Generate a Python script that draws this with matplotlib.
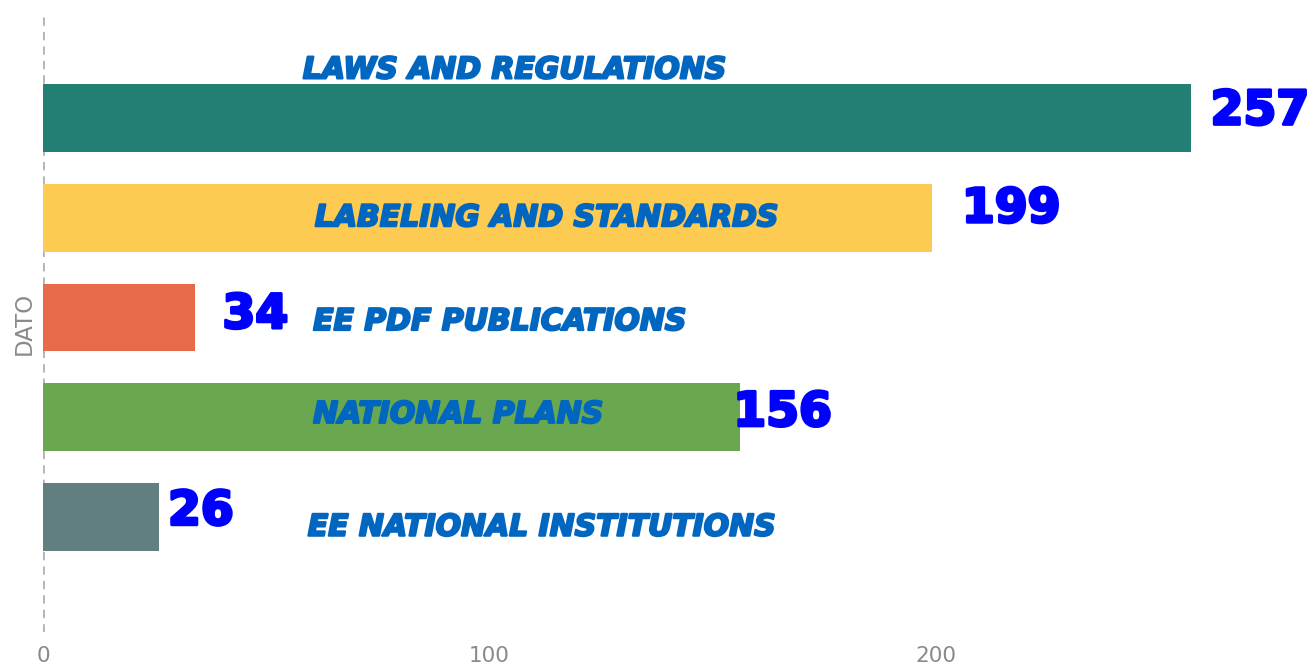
import matplotlib
matplotlib.use("Agg")
import matplotlib.pyplot as plt
import matplotlib.patheffects as pe

categories = ["LAWS AND REGULATIONS", "LABELING AND STANDARDS", "EE PDF PUBLICATIONS",
              "NATIONAL PLANS", "EE NATIONAL INSTITUTIONS"]
values = [257, 199, 34, 156, 26]
bar_colors = ["#237E74", "#FECB52", "#E56B4B", "#6AA84F", "#627F80"]
xticks = [0, 100, 200]

# layout of annotations (data coordinates)
cat_label_x = [58.2, 60.9, 60.5, 60.5, 59.3]
cat_label_dy = [-0.48, 0.0, 0.04, -0.03, 0.10]
val_label_dx = [4.5, 6.8, 6.2, -1.4, 2.0]
val_label_dy = [-0.06, -0.08, -0.02, -0.04, -0.05]

fig = plt.figure(figsize=(13.15, 6.68), dpi=100)
ax = fig.add_axes([43 / 1315, 36 / 668, 1 - 43 / 1315, (632 - 15) / 668])

ypos = list(range(len(categories)))
ax.barh(ypos, values, height=0.68, color=bar_colors, zorder=2)

ax.set_xlim(0, (1315 - 43) / 4.465)
ax.set_ylim(len(categories) - 1 + 1.15, -1.03)

ax.axvline(0, color="#b3b3b3", linestyle=(0, (3.0, 2.2)), linewidth=2.0, zorder=1)

for i, (c, v) in enumerate(zip(categories, values)):
    ax.text(v + val_label_dx[i], i + val_label_dy[i], str(v), color="#0000FF",
            fontsize=34, fontweight="heavy", family="DejaVu Sans",
            ha="left", va="center", zorder=3,
            path_effects=[pe.withStroke(linewidth=2.2, foreground="#0000FF")])
    ax.text(cat_label_x[i], i + cat_label_dy[i], c, color="#0066C0",
            fontsize=21.5, fontweight="bold", style="italic", family="DejaVu Sans",
            ha="left", va="center", zorder=3,
            path_effects=[pe.withStroke(linewidth=1.6, foreground="#0066C0")])

for s in ax.spines.values():
    s.set_visible(False)
ax.set_yticks([])
ax.set_xticks(xticks)
ax.set_xticklabels([str(t) for t in xticks], color="#8a8a8a", fontsize=15.5)
ax.tick_params(axis="x", length=0, pad=10)

fig.text(24 / 1315, 1 - 323 / 668, "DATO", rotation=90, color="#8a8a8a",
         fontsize=16.5, ha="center", va="center")

fig.savefig("out.png", dpi=100)
